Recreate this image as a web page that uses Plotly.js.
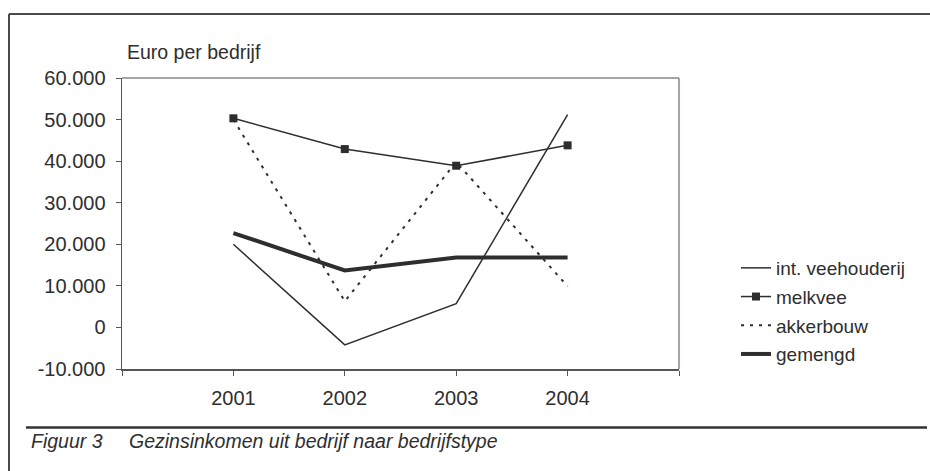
<!DOCTYPE html>
<html>
<head>
<meta charset="utf-8">
<script src="https://cdn.plot.ly/plotly-3.0.1.min.js"></script>
<style>html,body{margin:0;padding:0;background:#fff}#chart{width:930px;height:471px}</style>
</head>
<body>
<div id="chart"></div>
<script>
var years = [2001, 2002, 2003, 2004];
var intVeehouderij = [20000, -4200, 5700, 51200];
var melkvee = [50300, 42900, 38900, 43800];
var akkerbouw = [50000, 6300, 39800, 9900];
var gemengd = [22700, 13700, 16800, 16800];
var seriesNames = ['int. veehouderij', 'melkvee', 'akkerbouw', 'gemengd'];
var xTickVals = [2000, 2001, 2002, 2003, 2004, 2005];
var xTickText = ['', '2001', '2002', '2003', '2004', ''];
var yTickVals = [-10000, 0, 10000, 20000, 30000, 40000, 50000, 60000];
var yTickText = ['-10.000', '0', '10.000', '20.000', '30.000', '40.000', '50.000', '60.000'];
var yTitle = 'Euro per bedrijf';
var captionLabel = 'Figuur 3';
var captionText = 'Gezinsinkomen uit bedrijf naar bedrijfstype';

var font = 'Liberation Sans, Arial, sans-serif';
var ink = '#2e2e2e';

var traces = [
  {x: years, y: intVeehouderij, name: seriesNames[0], mode: 'lines', legendgroup: 'a',
   line: {color: ink, width: 1.5}},
  {x: years, y: melkvee, name: seriesNames[1], mode: 'lines+markers', legendgroup: 'b',
   line: {color: ink, width: 1.5}, marker: {symbol: 'square', size: 8, color: ink}},
  {x: years, y: akkerbouw, name: seriesNames[2], mode: 'lines', legendgroup: 'c',
   line: {color: ink, width: 2, dash: '3px,6px'}},
  {x: years, y: gemengd, name: seriesNames[3], mode: 'lines', legendgroup: 'd',
   line: {color: ink, width: 4}}
];

var L = 122, R = 679, T = 78, B = 369;
function px(x) { return (x - L) / (R - L); }
function py(y) { return (B - y) / (B - T); }

var layout = {
  width: 930, height: 471,
  margin: {l: L, r: 930 - R, t: T, b: 471 - B, pad: 0},
  paper_bgcolor: '#fff', plot_bgcolor: '#fff',
  font: {family: font, size: 19, color: ink},
  showlegend: true,
  legend: {x: px(736), y: py(249), xanchor: 'left', yanchor: 'top',
           font: {family: font, size: 19, color: ink}, tracegroupgap: 1,
           bgcolor: 'rgba(0,0,0,0)', borderwidth: 0},
  xaxis: {range: [2000, 2005], tickmode: 'array', tickvals: xTickVals, ticktext: xTickText,
          ticks: 'outside', ticklen: 5, tickwidth: 1, tickcolor: '#555', ticklabelstandoff: 5,
          showline: true, linecolor: '#555', linewidth: 1.5, showgrid: false, zeroline: false,
          tickfont: {family: font, size: 20, color: ink}, fixedrange: true},
  yaxis: {range: [-10000, 60000], tickmode: 'array', tickvals: yTickVals, ticktext: yTickText,
          ticks: 'outside', ticklen: 5, tickwidth: 1, tickcolor: '#555', ticklabelstandoff: 6,
          showline: true, linecolor: '#555', linewidth: 1.5, showgrid: false, zeroline: false,
          tickfont: {family: font, size: 20, color: ink}, fixedrange: true},
  shapes: [
    {type: 'line', xref: 'paper', yref: 'paper', x0: 0, x1: 1, y0: 1, y1: 1, line: {color: '#8e8787', width: 1.5}},
    {type: 'line', xref: 'paper', yref: 'paper', x0: 1, x1: 1, y0: 0, y1: 1, line: {color: '#8e8787', width: 1.5}},
    {type: 'line', xref: 'paper', yref: 'paper', x0: px(9), x1: px(9), y0: py(14), y1: py(480), line: {color: '#4a4a4a', width: 2}},
    {type: 'line', xref: 'paper', yref: 'paper', x0: px(9), x1: px(935), y0: py(14), y1: py(14), line: {color: '#4a4a4a', width: 2}},
    {type: 'line', xref: 'paper', yref: 'paper', x0: px(26), x1: px(927), y0: py(427.5), y1: py(427.5), line: {color: '#333', width: 2.5}}
  ],
  annotations: [
    {text: yTitle, xref: 'paper', yref: 'paper', x: px(125), y: py(52), xanchor: 'left', yanchor: 'middle',
     showarrow: false, font: {family: font, size: 19.5, color: ink}},
    {text: '<i>' + captionLabel + '</i>', xref: 'paper', yref: 'paper', x: px(29), y: py(441), xanchor: 'left', yanchor: 'middle',
     showarrow: false, font: {family: font, size: 19.5, color: ink}},
    {text: '<i>' + captionText + '</i>', xref: 'paper', yref: 'paper', x: px(127), y: py(441), xanchor: 'left', yanchor: 'middle',
     showarrow: false, font: {family: font, size: 19.5, color: ink}}
  ]
};

Plotly.newPlot('chart', traces, layout, {staticPlot: true, displayModeBar: false});
</script>
</body>
</html>
